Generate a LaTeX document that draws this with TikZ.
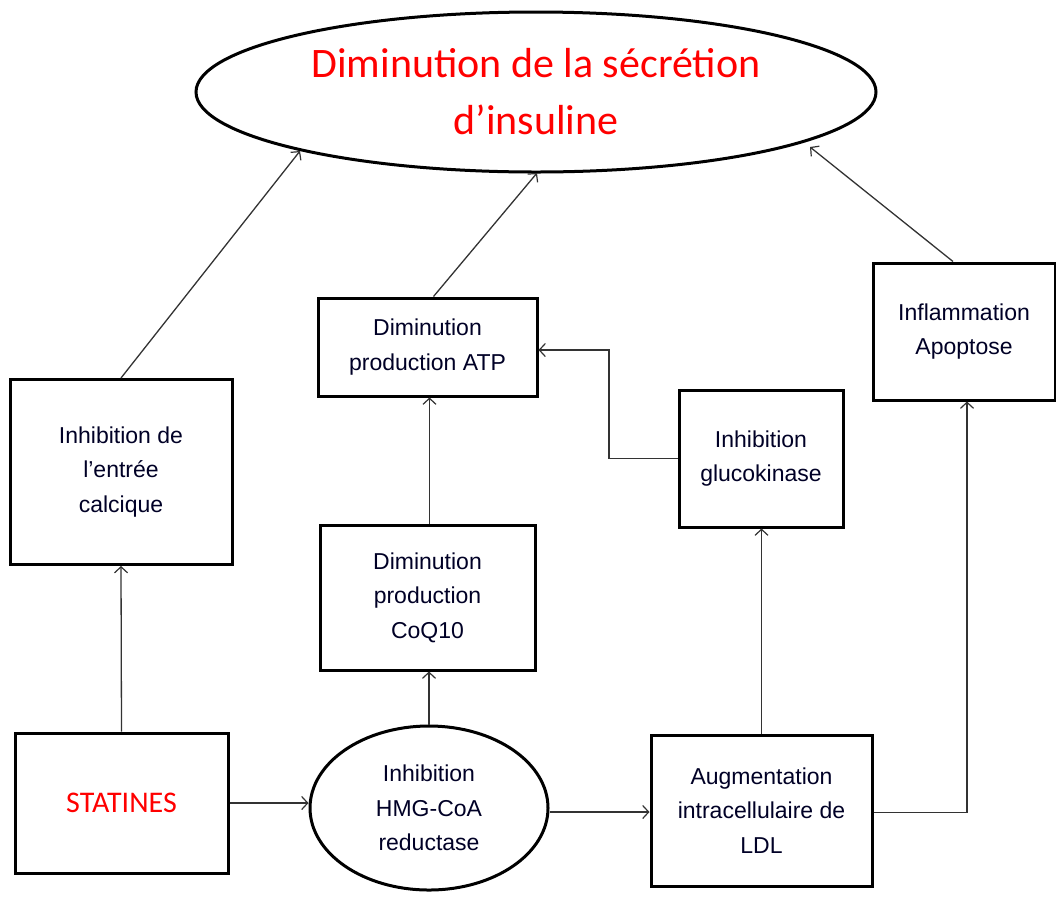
\documentclass[tikz,border=0pt]{standalone}
\usepackage{fontspec}
\setmainfont{Liberation Sans}
\newfontfamily\titlefont{Carlito}
\usetikzlibrary{shapes.geometric,arrows.meta}
\begin{document}
\begin{tikzpicture}[x=1pt,y=-1pt,
  box/.style={draw=black,line width=3pt,fill=white,rectangle,inner sep=0pt,align=center,
    font=\fontsize{23}{34.5}\selectfont,text=black!85!blue},
  oval/.style={draw=black,line width=3pt,fill=white,ellipse,inner sep=0pt,align=center},
  conn/.style={draw=black!80,line width=1.3pt,-{Straight Barb[length=6pt,width=13pt,line width=1.2pt]}}]
\useasboundingbox (0,0) rectangle (1056,898);
% title ellipse
\node[oval,minimum width=680pt,minimum height=160pt,text=red,font=\titlefont\fontsize{42}{57}\selectfont] (title) at (536,92)
  {Diminution de la sécrétion\\d’insuline};
% boxes
\node[box,minimum width=222pt,minimum height=185pt] (calc) at (121,472) {Inhibition de\\l’entrée\\calcique};
\node[box,minimum width=213pt,minimum height=140pt,text=red,font=\titlefont\fontsize{30}{36}\selectfont] (stat) at (121.5,803) {STATINES};
\node[oval,minimum width=238pt,minimum height=164pt,font=\fontsize{23}{34.5}\selectfont,text=black!85!blue] (hmg) at (429,808) {Inhibition\\HMG-CoA\\reductase};
\node[box,minimum width=215pt,minimum height=145pt] (coq) at (427.5,597.5) {Diminution\\production\\CoQ10};
\node[box,minimum width=219pt,minimum height=98pt] (atp) at (427.5,347) {Diminution\\production ATP};
\node[box,minimum width=164pt,minimum height=137pt] (gluc) at (761,458.5) {Inhibition\\glucokinase};
\node[box,minimum width=221pt,minimum height=151pt] (ldl) at (761.5,810.5) {Augmentation\\intracellulaire de\\LDL};
\node[box,minimum width=182pt,minimum height=137pt] (infl) at (964,331.5) {Inflammation\\Apoptose};
% free ends on the title ellipse and elbow points
\coordinate (e1) at (300,151);
\coordinate (e2) at (537,173);
\coordinate (e3) at (810,147);
\coordinate (k1) at (609,350);
\coordinate (k2) at (967,0);
% connectors
\draw[conn] (calc.north) -- (e1);
\draw[conn] ([xshift=6pt]atp.north) -- (e2);
\draw[conn] ([xshift=-11pt]infl.north) -- (e3);
\draw[conn] (stat.north) -- (calc.south);
\draw[conn] (stat.east) -- (stat.east -| hmg.west);
\draw[conn] ([yshift=-4pt]hmg.east) -- ([yshift=-4pt]hmg.east -| ldl.west);
\draw[conn] (hmg.north) -- (hmg.north |- coq.south);
\draw[conn] ([xshift=2pt]coq.north) -- ([xshift=2pt]atp.south);
\draw[conn] (gluc.west) -| (k1) -- (k1 -| atp.east);
\draw[conn] (ldl.north) -- (ldl.north |- gluc.south);
\draw[conn] ([yshift=-2pt]ldl.east) -| (k2 |- infl.south);
\end{tikzpicture}
\end{document}
